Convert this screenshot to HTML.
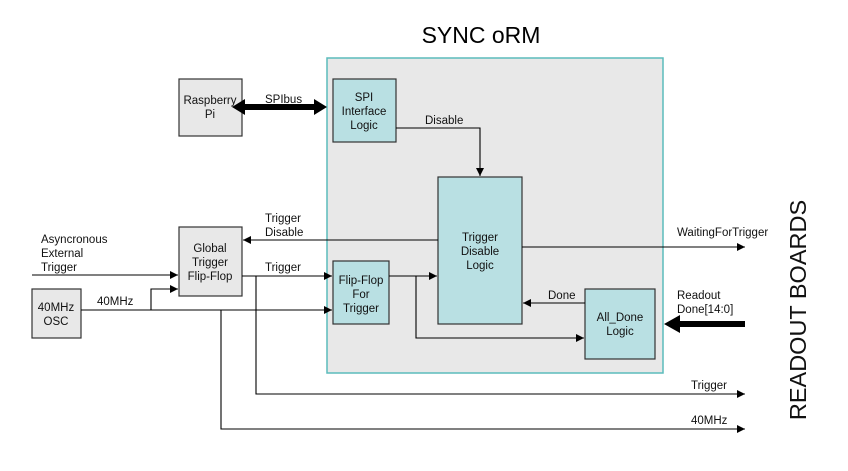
<!DOCTYPE html>
<html><head><meta charset="utf-8"><style>
html,body{margin:0;padding:0;background:#fff;}
svg{display:block;font-family:"Liberation Sans",Arial,sans-serif;}
</style></head><body>
<svg width="848" height="471" viewBox="0 0 848 471" xmlns="http://www.w3.org/2000/svg">
<defs>
<marker id="a" markerWidth="8" markerHeight="8" refX="8" refY="4" orient="auto" markerUnits="userSpaceOnUse"><path d="M0,0 L8,4 L0,8 z" fill="#000"/></marker>
</defs>
<text x="481" y="43" font-size="23" text-anchor="middle" fill="#000">SYNC oRM</text>
<rect x="327" y="58" width="336" height="315" fill="#e8e8e8" stroke="#5bbcbc" stroke-width="1.5"/>
<g stroke="#333" stroke-width="1.2">
<rect x="179" y="79" width="63" height="57" fill="#e8e8e8"/>
<rect x="333" y="79" width="63" height="63" fill="#b9e0e3"/>
<rect x="438" y="177" width="84" height="147" fill="#b9e0e3"/>
<rect x="179" y="227" width="63" height="69" fill="#e8e8e8"/>
<rect x="333" y="261" width="56" height="63" fill="#b9e0e3"/>
<rect x="32" y="289" width="49" height="49" fill="#e8e8e8"/>
<rect x="585" y="289" width="70" height="70" fill="#b9e0e3"/>
</g>
<g font-size="11.5" text-anchor="middle" fill="#111">
<text x="210" y="104">Raspberry</text><text x="210" y="118">Pi</text>
<text x="364" y="101">SPI</text><text x="364" y="115">Interface</text><text x="364" y="129">Logic</text>
<text x="480" y="241">Trigger</text><text x="480" y="255">Disable</text><text x="480" y="269">Logic</text>
<text x="210" y="252">Global</text><text x="210" y="266">Trigger</text><text x="210" y="280">Flip-Flop</text>
<text x="361" y="284">Flip-Flop</text><text x="361" y="298">For</text><text x="361" y="312">Trigger</text>
<text x="56" y="311">40MHz</text><text x="56" y="325">OSC</text>
<text x="620" y="321">All_Done</text><text x="620" y="335">Logic</text>
</g>
<g font-size="11.5" fill="#111">
<text x="265" y="103">SPIbus</text>
<text x="425" y="124">Disable</text>
<text x="265" y="222">Trigger</text><text x="265" y="236">Disable</text>
<text x="41" y="243">Asyncronous</text><text x="41" y="257">External</text><text x="41" y="271">Trigger</text>
<text x="265" y="271">Trigger</text>
<text x="97" y="305">40MHz</text>
<text x="548" y="299">Done</text>
<text x="677" y="236">WaitingForTrigger</text>
<text x="677" y="299">Readout</text><text x="677" y="313">Done[14:0]</text>
<text x="691" y="389">Trigger</text>
<text x="691" y="424">40MHz</text>
</g>
<text transform="translate(806,310) rotate(-90)" font-size="23.5" text-anchor="middle" fill="#111">READOUT BOARDS</text>
<g stroke="#000" stroke-width="1.1" fill="none">
<path d="M396,128 H480 V176" marker-end="url(#a)"/>
<path d="M438,240 H243" marker-end="url(#a)"/>
<path d="M32,275 H178" marker-end="url(#a)"/>
<path d="M242,276 H332" marker-end="url(#a)"/>
<path d="M81,310 H332" marker-end="url(#a)"/>
<path d="M151,310 V289 H178" marker-end="url(#a)"/>
<path d="M389,276 H437" marker-end="url(#a)"/>
<path d="M416,276 V338 H584" marker-end="url(#a)"/>
<path d="M585,303 H523" marker-end="url(#a)"/>
<path d="M522,247 H745" marker-end="url(#a)"/>
<path d="M256,276 V394 H745" marker-end="url(#a)"/>
<path d="M221,310 V429 H745" marker-end="url(#a)"/>
</g>
<path d="M232,107 L245,99 V104 H314 V99 L327,107 L314,115 V110 H245 V115 Z" fill="#000"/>
<path d="M664,324 L680,315 V321 H745 V327 H680 V333 Z" fill="#000"/>
</svg>
</body></html>
